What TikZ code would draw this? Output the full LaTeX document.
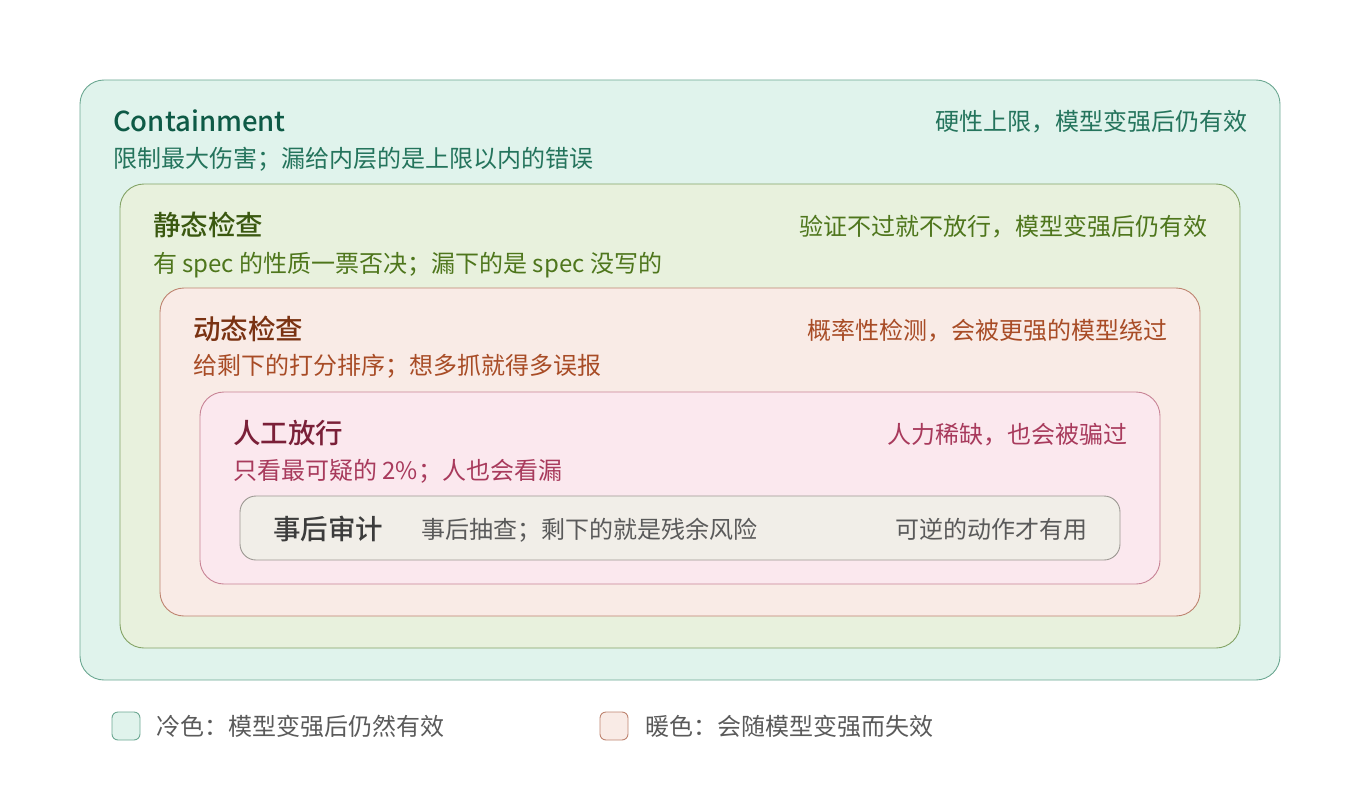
\documentclass[tikz,border=0pt]{standalone}
\usepackage{fontspec}
\setmainfont{Noto Sans CJK SC}[BoldFont={Noto Sans CJK SC Medium}]
\usetikzlibrary{positioning}

\definecolor{cntFill}{HTML}{E0F3EC}
\definecolor{cntLine}{HTML}{6CA892}
\definecolor{cntHead}{HTML}{0E5A46}
\definecolor{cntText}{HTML}{24745C}
\definecolor{staFill}{HTML}{E8F1DD}
\definecolor{staLine}{HTML}{84A466}
\definecolor{staHead}{HTML}{3A5810}
\definecolor{staText}{HTML}{4E761C}
\definecolor{dynFill}{HTML}{F9EBE6}
\definecolor{dynLine}{HTML}{BE8470}
\definecolor{dynHead}{HTML}{7A3212}
\definecolor{dynText}{HTML}{A84C26}
\definecolor{hmnFill}{HTML}{FBE8EE}
\definecolor{hmnLine}{HTML}{C88496}
\definecolor{hmnHead}{HTML}{7A2038}
\definecolor{hmnText}{HTML}{A83A5C}
\definecolor{audFill}{HTML}{F1EEE8}
\definecolor{audLine}{HTML}{9C9892}
\definecolor{audHead}{HTML}{3C3C3C}
\definecolor{audText}{HTML}{5A5A5A}

\begin{document}
\begin{tikzpicture}[x=1pt,y=-1pt,
  layer/.style={rounded corners=24pt,line width=0.9pt},
  headtxt/.style={inner sep=0pt,anchor=base west,font=\fontsize{27.5}{30}\selectfont\bfseries},
  subtxt/.style={inner sep=0pt,anchor=base west,font=\fontsize{24}{28}\selectfont},
  sidetxt/.style={inner sep=0pt,anchor=base east,font=\fontsize{24}{28}\selectfont},
  keybox/.style={rounded corners=6pt,line width=0.9pt,minimum width=28pt,minimum height=28pt,inner sep=0pt}]
\useasboundingbox (0,0) rectangle (1360,800);
% nested layers
\draw [layer,fill=cntFill,draw=cntLine] (80,80) rectangle (1280,680);
\draw [layer,fill=staFill,draw=staLine] (120,184) rectangle (1240,648);
\draw [layer,fill=dynFill,draw=dynLine] (160,288) rectangle (1200,616);
\draw [layer,fill=hmnFill,draw=hmnLine] (200,392) rectangle (1160,584);
\draw [layer,rounded corners=16pt,fill=audFill,draw=audLine] (240,496) rectangle (1120,560);
% containment
\node (cnthead) [headtxt,text=cntHead] at (113,131) {Containment};
\node (cntsub) [subtxt,text=cntText] at (113,167) {限制最大伤害；漏给内层的是上限以内的错误};
\node (cntside) [sidetxt,text=cntText] at (1248,130) {硬性上限，模型变强后仍有效};
% static
\node (stahead) [headtxt,text=staHead] at (153,235) {静态检查};
\node (stasub) [subtxt,text=staText] at (153,272) {有 spec 的性质一票否决；漏下的是 spec 没写的};
\node (staside) [sidetxt,text=staText] at (1208,235) {验证不过就不放行，模型变强后仍有效};
% dynamic
\node (dynhead) [headtxt,text=dynHead] at (193,339) {动态检查};
\node (dynsub) [subtxt,text=dynText] at (193,374) {给剩下的打分排序；想多抓就得多误报};
\node (dynside) [sidetxt,text=dynText] at (1168,339) {概率性检测，会被更强的模型绕过};
% human
\node (hmnhead) [headtxt,text=hmnHead] at (233,443) {人工放行};
\node (hmnsub) [subtxt,text=hmnText] at (233,479) {只看最可疑的 2\%；人也会看漏};
\node (hmnside) [sidetxt,text=hmnText] at (1128,443) {人力稀缺，也会被骗过};
% audit
\node (audhead) [headtxt,text=audHead] at (273,539) {事后审计};
\node (audsub) [subtxt,text=audText] at (421,538) {事后抽查；剩下的就是残余风险};
\node (audside) [sidetxt,text=audText] at (1088,538) {可逆的动作才有用};
% legend
\node (coldkey) [keybox,fill=cntFill,draw=cntLine] at (126,726) {};
\node (coldtxt) [subtxt,anchor=west,text=audText,right=16pt of coldkey] {冷色：模型变强后仍然有效};
\node (warmkey) [keybox,fill=dynFill,draw=dynLine] at (614,726) {};
\node (warmtxt) [subtxt,anchor=west,text=audText,right=17pt of warmkey] {暖色：会随模型变强而失效};
\end{tikzpicture}
\end{document}
